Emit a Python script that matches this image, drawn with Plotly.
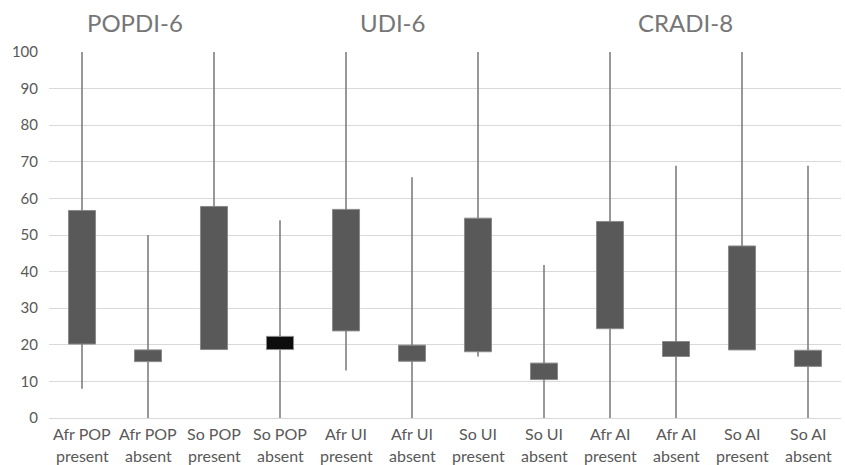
import plotly.graph_objects as go

categories = ["Afr POP present", "Afr POP absent", "So POP present", "So POP absent",
              "Afr UI present", "Afr UI absent", "So UI present", "So UI absent",
              "Afr AI present", "Afr AI absent", "So AI present", "So AI absent"]
label_line1 = ["Afr POP", "Afr POP", "So POP", "So POP", "Afr UI", "Afr UI",
               "So UI", "So UI", "Afr AI", "Afr AI", "So AI", "So AI"]
label_line2 = ["present", "absent"] * 6
high_vals = [100, 50, 100, 54, 100, 65.8, 100, 41.8, 100, 68.9, 100, 68.9]
low_vals = [8.0, 0, 18.7, 0, 13.0, 0, 16.8, 0, 0, 0, 18.6, 0]
open_vals = [20.2, 15.4, 18.7, 22.3, 23.8, 15.5, 18.1, 10.5, 24.4, 16.8, 18.6, 14.1]
close_vals = [56.7, 18.6, 57.8, 18.7, 57.0, 19.9, 54.6, 15.0, 53.7, 20.9, 47.0, 18.5]
group_titles = ["POPDI-6", "UDI-6", "CRADI-8"]
group_title_pos = [0.81, 4.71, 9.14]

FONT = "Lato"
GRID = "#d9d9d9"
LINE = "#767676"
TXT = "#595959"

box_lo = [min(o, c) for o, c in zip(open_vals, close_vals)]
box_hi = [max(o, c) for o, c in zip(open_vals, close_vals)]
fills = ["#595959" if c >= o else "#0d0d0d" for o, c in zip(open_vals, close_vals)]

wx, wy = [], []
for cat, lo, hi, blo, bhi in zip(categories, low_vals, high_vals, box_lo, box_hi):
    if blo > lo:
        wx += [cat, cat, None]
        wy += [lo, blo, None]
    if hi > bhi:
        wx += [cat, cat, None]
        wy += [bhi, hi, None]

fig = go.Figure()
fig.add_trace(go.Scatter(x=wx, y=wy, mode="lines", line=dict(color=LINE, width=1.5),
                         hoverinfo="skip", showlegend=False))
fig.add_trace(go.Bar(x=categories, base=box_lo, y=[h - l for h, l in zip(box_hi, box_lo)],
                     width=0.41, marker=dict(color=fills, line=dict(color="#8a8a8a", width=1)),
                     showlegend=False))

for t, p in zip(group_titles, group_title_pos):
    fig.add_annotation(x=p, y=1, xref="x", yref="paper", yshift=30, text=t, showarrow=False,
                       font=dict(family=FONT, size=24, color="#767676"),
                       xanchor="center", yanchor="middle")

for cat, l1, l2 in zip(categories, label_line1, label_line2):
    fig.add_annotation(x=cat, y=0, xref="x", yref="paper", yshift=-15, text=l1, showarrow=False,
                       font=dict(family=FONT, size=16, color=TXT), xanchor="center", yanchor="middle")
    fig.add_annotation(x=cat, y=0, xref="x", yref="paper", yshift=-37, text=l2, showarrow=False,
                       font=dict(family=FONT, size=16, color=TXT), xanchor="center", yanchor="middle")

fig.update_layout(
    width=845, height=465,
    margin=dict(l=49, r=4, t=52, b=47, autoexpand=False),
    paper_bgcolor="white", plot_bgcolor="white",
    font=dict(family=FONT, color=TXT),
    xaxis=dict(type="category", showgrid=False, showline=False, zeroline=False,
               showticklabels=False, ticks="", layer="below traces"),
    yaxis=dict(range=[0, 100], dtick=10, showgrid=True, gridcolor=GRID, gridwidth=1,
               zeroline=True, zerolinecolor=GRID, zerolinewidth=1, showline=False,
               tickfont=dict(size=15, color=TXT), ticklabelstandoff=10,
               layer="below traces"),
    bargap=0.5,
)

fig.write_html("out.html", config={"displayModeBar": False},
               post_script="document.body.style.margin='0';")
